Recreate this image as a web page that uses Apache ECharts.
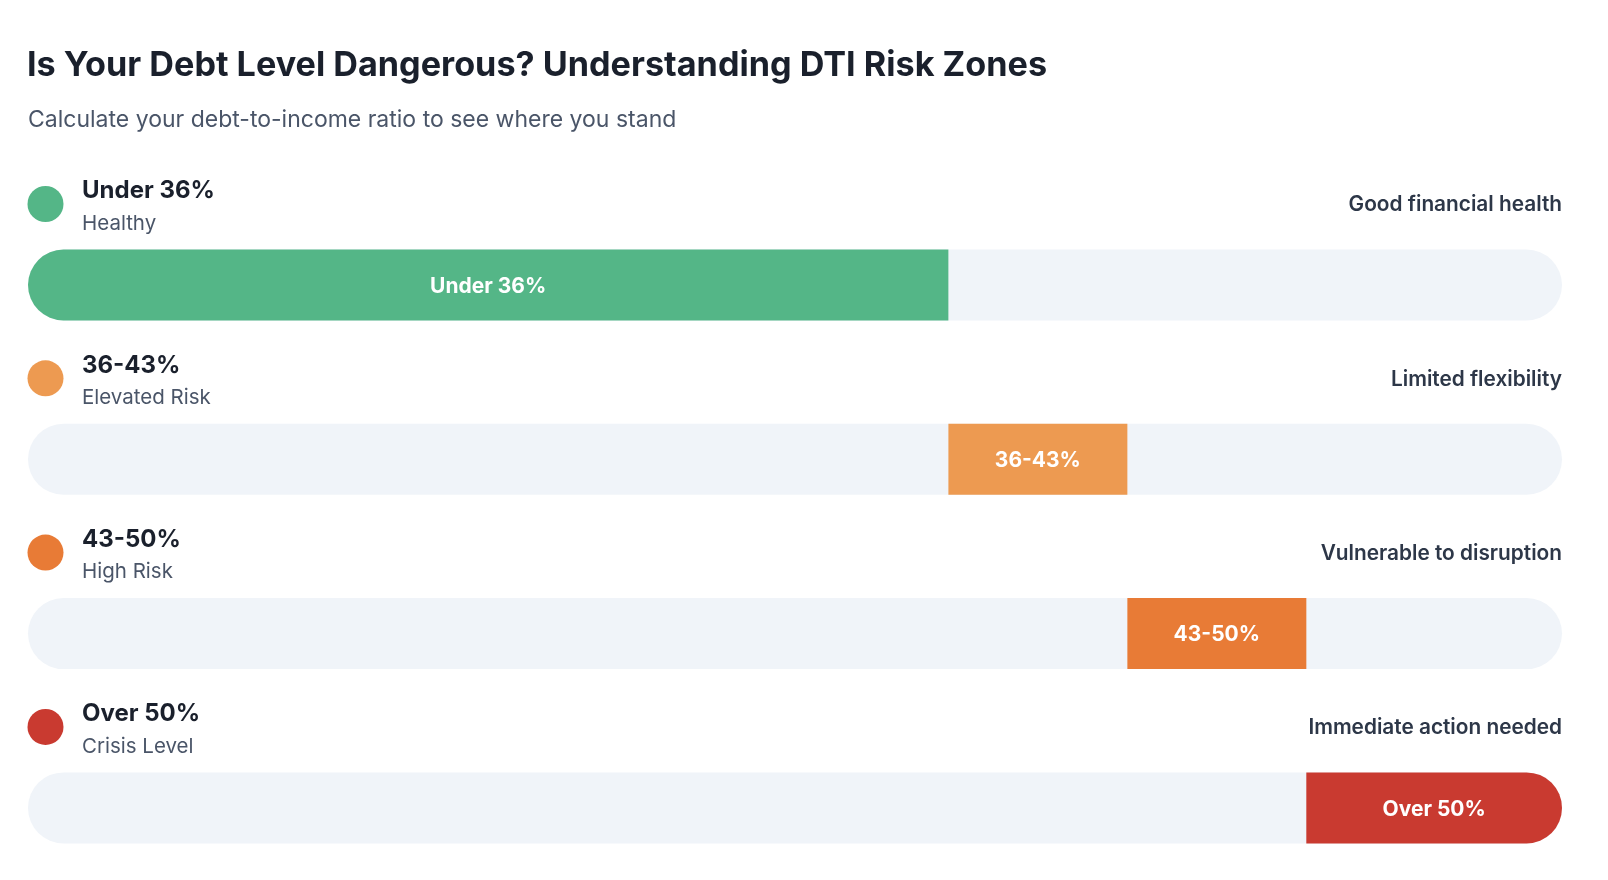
<!DOCTYPE html>
<html>
<head>
<meta charset="utf-8">
<title>DTI Risk Zones</title>
<script src="https://cdn.jsdelivr.net/npm/echarts@6/dist/echarts.min.js"></script>
<style>
  html, body { margin: 0; padding: 0; background: #ffffff; }
  #chart { width: 1608px; height: 880px; }
</style>
</head>
<body>
<div id="chart"></div>
<script>
// zones (DTI %)
const zoneNames = ['Under 36%', '36-43%', '43-50%', 'Over 50%'];
const zoneLabels = ['Healthy', 'Elevated Risk', 'High Risk', 'Crisis Level'];
const zoneNotes = ['Good financial health', 'Limited flexibility', 'Vulnerable to disruption', 'Immediate action needed'];
const zoneStart = [0, 36, 43, 50];
const zoneSize = [36, 7, 7, 10];
const scaleMax = 60;
const zoneColors = ['#54B687', '#ED9A51', '#E87B36', '#C93A30'];

const FONT = 'Inter, "Noto Sans", sans-serif';
const rowGap = 174.3;
const trackTop = 249.5;
const trackH = 71;
const left = 28, right = 46;

let chart = echarts.init(document.getElementById('chart'));

let grids = [], xAxes = [], yAxes = [], series = [], graphics = [];

zoneNames.forEach(function (name, i) {
  grids.push({ left: left, right: right, top: trackTop + rowGap * i, height: trackH });
  xAxes.push({ type: 'value', gridIndex: i, min: 0, max: scaleMax, show: false });
  yAxes.push({ type: 'category', gridIndex: i, data: [name], show: false });

  // offset (transparent) + background track
  series.push({
    type: 'bar', xAxisIndex: i, yAxisIndex: i, stack: 'row' + i,
    barWidth: trackH, silent: true,
    showBackground: true,
    backgroundStyle: { color: '#F0F4F9', borderRadius: trackH / 2 },
    itemStyle: { color: 'transparent' },
    data: [zoneStart[i]]
  });

  let r = trackH / 2;
  let atLeft = zoneStart[i] === 0;
  let atRight = zoneStart[i] + zoneSize[i] === scaleMax;
  series.push({
    type: 'bar', xAxisIndex: i, yAxisIndex: i, stack: 'row' + i,
    barWidth: trackH,
    itemStyle: {
      color: zoneColors[i],
      borderRadius: [atLeft ? r : 0, atRight ? r : 0, atRight ? r : 0, atLeft ? r : 0]
    },
    label: {
      show: true, position: 'inside', formatter: name, offset: [0, 1.5],
      color: '#ffffff', fontFamily: FONT, fontWeight: 'bold', fontSize: 21
    },
    data: [zoneSize[i]]
  });

  let y0 = rowGap * i;
  graphics.push({
    type: 'circle', shape: { cx: 45.5, cy: 204 + y0, r: 18 },
    style: { fill: zoneColors[i] }
  });
  graphics.push({
    type: 'text', x: 82, y: 191 + y0,
    style: { text: name, font: 'bold 24px ' + FONT, fill: '#1A202C', verticalAlign: 'middle' }
  });
  graphics.push({
    type: 'text', x: 82, y: 223.5 + y0,
    style: { text: zoneLabels[i], font: '20.5px ' + FONT, fill: '#4A5568', verticalAlign: 'middle' }
  });
  graphics.push({
    type: 'text', x: 1562, y: 205 + y0,
    style: { text: zoneNotes[i], font: '600 20.8px ' + FONT, fill: '#2D3748', align: 'right', verticalAlign: 'middle' }
  });
});

graphics.push({
  type: 'text', x: 27, y: 65.5,
  style: { text: 'Is Your Debt Level Dangerous? Understanding DTI Risk Zones', font: 'bold 34.2px ' + FONT, fill: '#1A202C', verticalAlign: 'middle' }
});
graphics.push({
  type: 'text', x: 28, y: 120,
  style: { text: 'Calculate your debt-to-income ratio to see where you stand', font: '23px ' + FONT, fill: '#4A5568', verticalAlign: 'middle' }
});

let option = {
  animation: false,
  backgroundColor: '#ffffff',
  grid: grids,
  xAxis: xAxes,
  yAxis: yAxes,
  series: series,
  graphic: graphics
};
chart.setOption(option);
</script>
</body>
</html>
